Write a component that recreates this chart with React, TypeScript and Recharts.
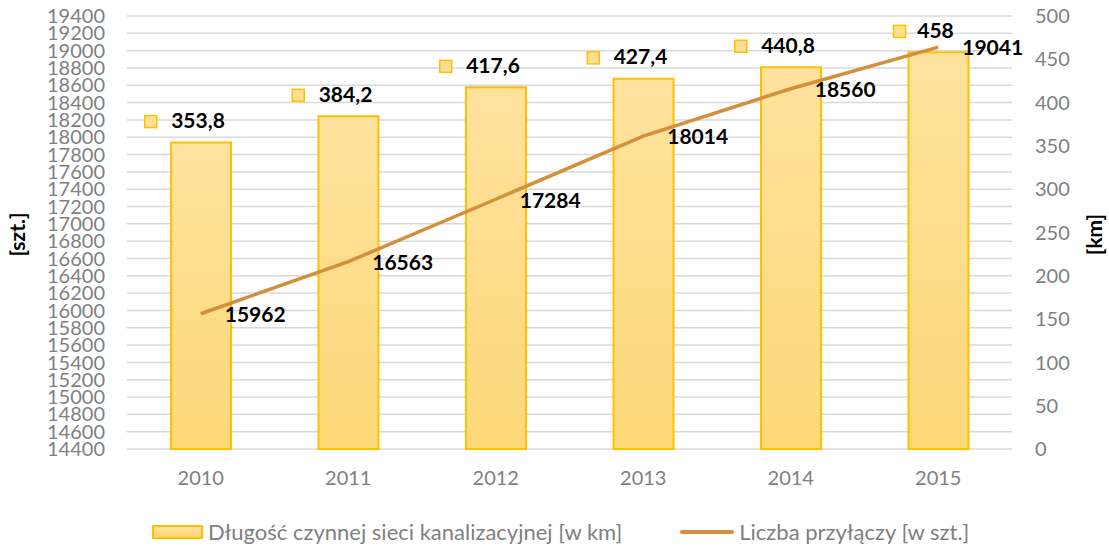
import React from "react";
import {
  ComposedChart,
  Bar,
  Line,
  XAxis,
  YAxis,
  CartesianGrid,
  LabelList,
} from "recharts";

const years = ["2010", "2011", "2012", "2013", "2014", "2015"];
const networkKm = [353.8, 384.2, 417.6, 427.4, 440.8, 458];
const connections = [15962, 16563, 17284, 18014, 18560, 19041];
const leftTicks = [
  14400, 14600, 14800, 15000, 15200, 15400, 15600, 15800, 16000, 16200, 16400,
  16600, 16800, 17000, 17200, 17400, 17600, 17800, 18000, 18200, 18400, 18600,
  18800, 19000, 19200, 19400,
];
const rightTicks = [0, 50, 100, 150, 200, 250, 300, 350, 400, 450, 500];

const data = years.map((year, i) => ({
  year,
  km: networkKm[i],
  szt: connections[i],
}));

const FONT = "Lato, 'Open Sans', sans-serif";
const BAR_STROKE = "#FFC000";
const LINE_COLOR = "#D38F3B";

const fmt = (v: number) => String(v).replace(".", ",");

const BarValueLabel = (props: any) => {
  const { x, y, width, value } = props;
  const cx = x + width / 2 - 3;
  const text = fmt(value);
  const w = text.length * 11.3;
  const ty = y - 20;
  return (
    <g>
      <rect
        x={cx - w / 2 - 25}
        y={ty - 7}
        width={12}
        height={12}
        fill="#FEDF94"
        stroke={BAR_STROKE}
        strokeWidth={1.5}
      />
      <text
        x={cx}
        y={ty}
        textAnchor="middle"
        dominantBaseline="middle"
        fontFamily={FONT}
        fontSize={21}
        fontWeight="bold"
        fill="#000"
      >
        {text}
      </text>
    </g>
  );
};

const LineValueLabel = (props: any) => {
  const { x, y, value } = props;
  return (
    <text
      x={x + 24}
      y={y + 3}
      textAnchor="start"
      dominantBaseline="middle"
      fontFamily={FONT}
      fontSize={21}
      fontWeight="bold"
      fill="#000"
    >
      {value}
    </text>
  );
};

const AxisTitle = (text: string, dx: number) => (props: any) => {
  const { viewBox } = props;
  const x = viewBox.x + dx;
  const y = viewBox.y + viewBox.height / 2 + 2;
  return (
    <text
      x={x}
      y={y}
      transform={`rotate(-90 ${x} ${y})`}
      textAnchor="middle"
      dominantBaseline="middle"
      fontFamily={FONT}
      fontSize={21}
      fontWeight="bold"
      fill="#000"
    >
      {text}
    </text>
  );
};

const tickStyle = { fill: "#7F7F7F", fontSize: 20, fontFamily: FONT };

export default function App() {
  return (
    <div style={{ position: "absolute", left: 0, top: 0, width: 1109, height: 546, background: "#fff" }}>
      <ComposedChart
        width={1109}
        height={546}
        data={data}
        margin={{ top: 16, right: 0, bottom: 47, left: 0 }}
        barCategoryGap={0}
      >
        <defs>
          <linearGradient id="barFill" x1="0" y1="0" x2="0" y2="1">
            <stop offset="0%" stopColor="#FFE29E" />
            <stop offset="100%" stopColor="#FCD878" />
          </linearGradient>
        </defs>
        <CartesianGrid
          yAxisId="left"
          vertical={false}
          stroke="#D9D9D9"
          strokeWidth={1.5}
        />
        <XAxis
          dataKey="year"
          axisLine={false}
          tickLine={false}
          tick={tickStyle}
          tickMargin={16}
          height={50}
        />
        <YAxis
          yAxisId="left"
          orientation="left"
          width={127}
          domain={[14400, 19400]}
          ticks={leftTicks}
          interval={0}
          axisLine={false}
          tickLine={false}
          tick={tickStyle}
          tickMargin={16}
          label={{ content: AxisTitle("[szt.]", 20) }}
        />
        <YAxis
          yAxisId="right"
          orientation="right"
          width={97}
          domain={[0, 500]}
          ticks={rightTicks}
          interval={0}
          axisLine={false}
          tickLine={false}
          tick={tickStyle}
          tickMargin={17}
          label={{ content: AxisTitle("[km]", 85) }}
        />
        <Bar
          yAxisId="right"
          dataKey="km"
          barSize={60}
          fill="url(#barFill)"
          stroke={BAR_STROKE}
          strokeWidth={2}
          isAnimationActive={false}
        >
          <LabelList dataKey="km" content={BarValueLabel} />
        </Bar>
        <Line
          yAxisId="left"
          dataKey="szt"
          stroke={LINE_COLOR}
          strokeWidth={3.5}
          dot={false}
          activeDot={false}
          isAnimationActive={false}
        >
          <LabelList dataKey="szt" content={LineValueLabel} />
        </Line>
      </ComposedChart>
      <div
        style={{
          position: "absolute",
          top: 518,
          left: 152,
          display: "flex",
          alignItems: "center",
          fontFamily: FONT,
          fontSize: 22,
          color: "#808080",
          whiteSpace: "nowrap",
        }}
      >
        <span
          style={{
            display: "inline-block",
            width: 47,
            height: 10,
            background: "linear-gradient(#FFE29E, #FCD878)",
            border: `2px solid ${BAR_STROKE}`,
            marginRight: 5,
          }}
        />
        <span>Długość czynnej sieci kanalizacyjnej [w km]</span>
        <span
          style={{
            display: "inline-block",
            width: 54,
            height: 4,
            background: LINE_COLOR,
            borderRadius: 2,
            marginLeft: 58,
            marginRight: 5,
          }}
        />
        <span>Liczba przyłączy [w szt.]</span>
      </div>
    </div>
  );
}
